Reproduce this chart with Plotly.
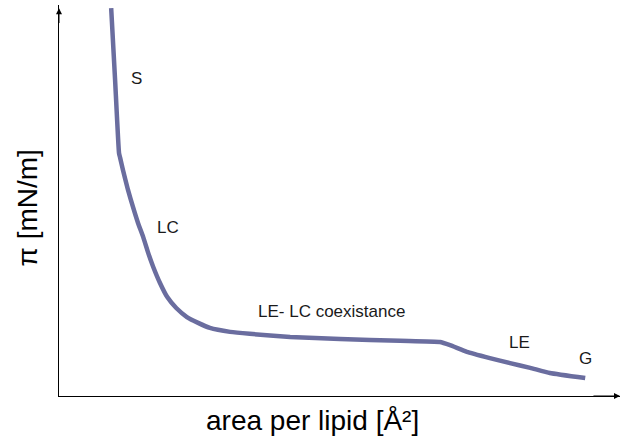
"""Langmuir isotherm sketch: surface pressure vs area per lipid, phases labelled."""

import plotly.graph_objects as go

# area per lipid (arbitrary units, 0-100) and surface pressure (arbitrary, 0-100)
AREA = [9.3, 10.0, 10.7, 10.9, 11.4, 12.3, 13.2, 14.1, 15.0, 15.9, 16.8,
        18.0, 19.3, 20.9, 22.8, 24.8, 26.9, 30.5, 34.0, 41.2, 50.1, 60.8,
        67.9, 69.7, 72.7, 76.8, 80.4, 84.0, 87.5, 93.8]
PRESSURE = [99.2, 80.8, 62.1, 60.9, 57.8, 52.7, 48.3, 44.2, 40.7, 36.6, 33.0,
            28.9, 25.3, 22.5, 20.2, 18.7, 17.4, 16.4, 15.9, 15.1, 14.6, 14.1,
            13.8, 13.0, 11.3, 9.7, 8.4, 7.2, 5.9, 4.6]

PHASE_LABELS = ["S", "LC", "LE- LC coexistance", "LE", "G"]
PHASE_X = [13.9, 19.4, 48.5, 82.0, 93.9]
PHASE_Y = [81.3, 43.0, 21.5, 13.6, 9.7]

X_TITLE = "area per lipid [Å²]"
Y_TITLE = "π [mN/m]"

CURVE = "#6a6d9f"
FONT = "Liberation Sans, Arial, sans-serif"

fig = go.Figure()
fig.add_scatter(
    x=AREA, y=PRESSURE, mode="lines",
    line=dict(color=CURVE, width=4.5, shape="spline", smoothing=0.4),
    hoverinfo="skip",
)
for label, x, y in zip(PHASE_LABELS, PHASE_X, PHASE_Y):
    fig.add_annotation(
        x=x, y=y, text=label, showarrow=False,
        font=dict(family=FONT, size=17, color="#1a1a1a"),
    )

# axis arrowheads
arrow = dict(text="", showarrow=True, arrowhead=2, arrowsize=1.2,
             arrowwidth=1, arrowcolor="black",
             xref="x domain", yref="y domain",
             axref="x domain", ayref="y domain")
fig.add_annotation(x=0, y=0.992, ax=0, ay=0.95, **arrow)
fig.add_annotation(x=1.0, y=0, ax=0.95, ay=0, **arrow)

# axis titles placed by hand (no tick labels to hang them on)
fig.add_annotation(x=0.452, y=-0.0614, xref="paper", yref="paper",
                   text=X_TITLE, showarrow=False, yanchor="middle",
                   font=dict(family=FONT, size=28, color="black"))
fig.add_annotation(x=-0.0561, y=0.481, xref="paper", yref="paper",
                   text=Y_TITLE, showarrow=False, textangle=-90,
                   xanchor="center", yanchor="middle",
                   font=dict(family=FONT, size=28, color="black"))

fig.update_layout(
    width=621, height=441,
    margin=dict(l=59, r=1, t=5, b=45, autoexpand=False),
    paper_bgcolor="white", plot_bgcolor="white",
    showlegend=False,
    font=dict(family=FONT, color="black"),
)
fig.update_xaxes(
    range=[0, 100], showgrid=False, zeroline=False, showticklabels=False,
    ticks="", showline=True, linecolor="black", linewidth=1,
)
fig.update_yaxes(
    range=[0, 100], showgrid=False, zeroline=False, showticklabels=False,
    ticks="", showline=True, linecolor="black", linewidth=1,
)

# the page's default body margin would shift the fixed-size figure
fig.write_html("out.html", config={"displayModeBar": False},
               post_script="document.body.style.margin='0';")
